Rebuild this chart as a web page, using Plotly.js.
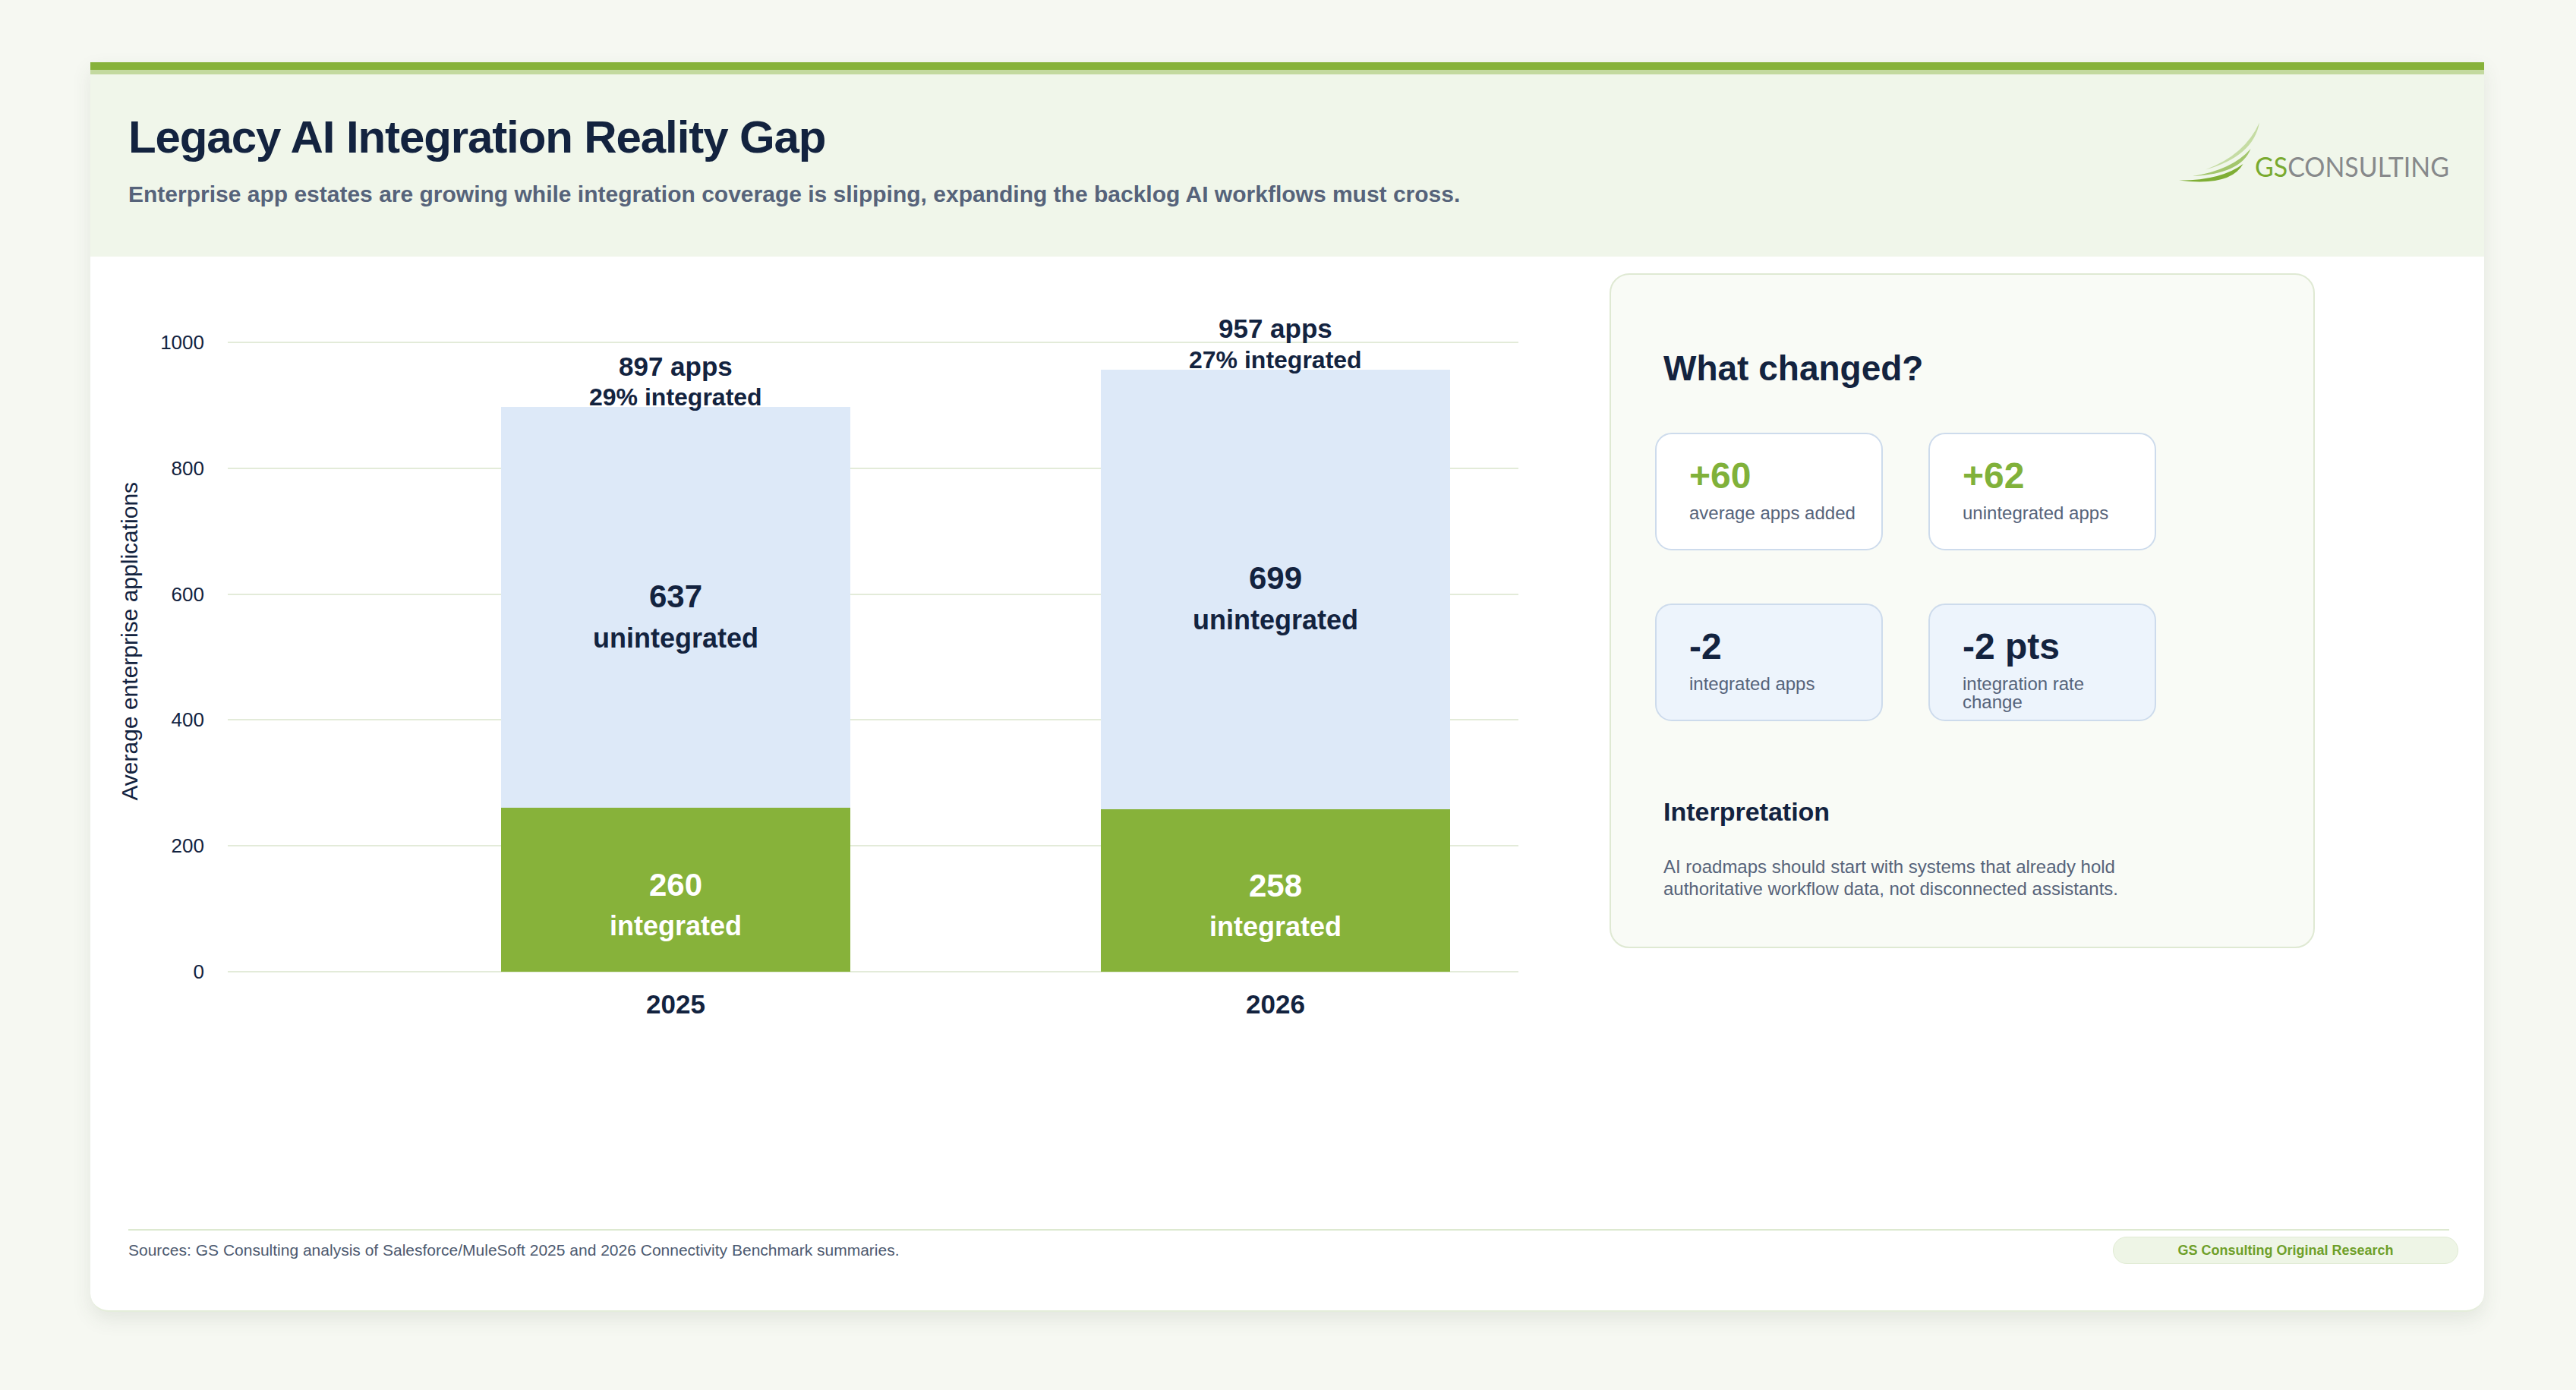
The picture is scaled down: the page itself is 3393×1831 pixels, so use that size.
<!DOCTYPE html>
<html>
<head>
<meta charset="utf-8">
<script src="https://cdn.plot.ly/plotly-3.0.1.min.js"></script>
<style>
  html, body { margin: 0; padding: 0; }
  body { width: 3393px; height: 1831px; background: #f6f8f2; position: relative; overflow: hidden;
         font-family: 'Liberation Sans', Arial, Helvetica, sans-serif; }
  .abs { position: absolute; white-space: nowrap; }
  #card { position: absolute; left: 119px; top: 82px; width: 3153px; height: 1646px; background: #ffffff;
          border-radius: 0 0 24px 24px; box-shadow: 0 10px 26px rgba(60, 75, 60, 0.10); overflow: hidden;
          border-bottom: 2px solid #e4edda; box-sizing: border-box; }
  #bar1 { position: absolute; left: 0; top: 0; width: 100%; height: 10px; background: #87b23a; }
  #bar2 { position: absolute; left: 0; top: 10px; width: 100%; height: 6px; background: #c3d99f; }
  #head { position: absolute; left: 0; top: 16px; width: 100%; height: 240px; background: #f0f6ea; }
  #title { left: 169px; top: 151px; font-size: 60px; line-height: 60px; font-weight: 700; color: #13233f; letter-spacing: -1.1px; }
  #subtitle { left: 169px; top: 241px; font-size: 30px; line-height: 30px; font-weight: 700; color: #56637a; }
  #panel { position: absolute; left: 2120px; top: 360px; width: 929px; height: 889px; box-sizing: border-box;
           border: 2px solid #dfe9d3; border-radius: 26px; background: #f9fbf6; }
  .kcard { position: absolute; width: 300px; height: 155px; box-sizing: border-box; border: 2px solid #cddbec; border-radius: 22px; }
  .kval { position: absolute; left: 43px; top: 31px; font-size: 48px; line-height: 48px; font-weight: 700; white-space: nowrap; }
  .klab { position: absolute; left: 43px; top: 92px; font-size: 24px; line-height: 24px; color: #56637a; white-space: nowrap; }
  #plot { position: absolute; left: 0; top: 0; width: 3393px; height: 1831px; z-index: 5; }
</style>
</head>
<body>
<div id="card">
  <div id="bar1"></div><div id="bar2"></div><div id="head"></div>
</div>
<div id="title" class="abs">Legacy AI Integration Reality Gap</div>
<div id="subtitle" class="abs">Enterprise app estates are growing while integration coverage is slipping, expanding the backlog AI workflows must cross.</div>

<svg class="abs" style="left:2860px;top:150px;" width="380" height="100" viewBox="2860 150 380 100">
  <path d="M2905,223.5 Q2968,206 2976,161.5 Q2957,204 2905,223.5 Z" fill="#c5dca3"/>
  <path d="M2888,232 Q2952,229 2964.5,196 Q2940,224 2888,232 Z" fill="#a3c66c"/>
  <path d="M2870,237.5 Q2938,246 2954.5,216 Q2925,238 2870,237.5 Z" fill="#7fae35"/>
  <text x="2970" y="233" font-family="Lato, 'DejaVu Sans', sans-serif" font-weight="400" font-size="36" textLength="256" lengthAdjust="spacingAndGlyphs"><tspan fill="#79aa2f">GS</tspan><tspan fill="#87898b">CONSULTING</tspan></text>
</svg>

<div id="panel"></div>
<div id="panelText"></div>

<div class="abs" style="left:169px;top:1619px;width:3057px;height:2px;background:#dde9d0;"></div>
<div id="sources" class="abs" style="left:169px;top:1636px;font-size:21px;line-height:21px;color:#4d5a70;">Sources: GS Consulting analysis of Salesforce/MuleSoft 2025 and 2026 Connectivity Benchmark summaries.</div>
<div class="abs" style="left:2783px;top:1629px;width:455px;height:36px;box-sizing:border-box;border:1px solid #e0ebd3;border-radius:18px;background:#eef5e6;font-size:18px;line-height:34px;text-align:center;font-weight:700;color:#6e9f2a;">GS Consulting Original Research</div>

<div id="plot"></div>

<script>
// ---- chart data ----
const years = ['2025', '2026'];
const integratedApps = [260, 258];
const unintegratedApps = [637, 699];
const totalApps = [897, 957];
const integratedShare = [29, 27];
const yTicks = [0, 200, 400, 600, 800, 1000];

// ---- side panel data ----
const changeValues = ['+60', '+62', '-2', '-2 pts'];
const changeLabels = ['average apps added', 'unintegrated apps', 'integrated apps', 'integration rate<br>change'];
const changeColors = ['#80b13a', '#80b13a', '#13233f', '#13233f'];
const changeBg = ['#ffffff', '#ffffff', '#edf4fc', '#edf4fc'];

// build side panel
(function () {
  const host = document.getElementById('panelText');
  let html = '<div class="abs" style="left:2191px;top:462px;font-size:46px;line-height:46px;font-weight:700;color:#13233f;">What changed?</div>';
  const pos = [[2180, 570], [2540, 570], [2180, 795], [2540, 795]];
  for (let i = 0; i < changeValues.length; i++) {
    html += '<div class="kcard" style="left:' + pos[i][0] + 'px;top:' + pos[i][1] + 'px;background:' + changeBg[i] + ';">' +
            '<div class="kval" style="color:' + changeColors[i] + ';">' + changeValues[i] + '</div>' +
            '<div class="klab">' + changeLabels[i] + '</div></div>';
  }
  html += '<div class="abs" style="left:2191px;top:1052px;font-size:34px;line-height:34px;font-weight:700;color:#13233f;">Interpretation</div>';
  html += '<div class="abs" style="left:2191px;top:1128px;font-size:24px;line-height:28.8px;color:#56637a;">AI roadmaps should start with systems that already hold<br>authoritative workflow data, not disconnected assistants.</div>';
  host.innerHTML = html;
})();

const W = 3393, H = 1831;
const NAVY = '#13233f';
const FONT = 'Liberation Sans, Arial, Helvetica, sans-serif';

const traces = [
  { type: 'bar', x: years, y: integratedApps, name: 'Integrated', marker: { color: '#87b23a' },
    width: 0.582, hoverinfo: 'skip' },
  { type: 'bar', x: years, y: unintegratedApps, name: 'Unintegrated', marker: { color: '#dde9f8' },
    width: 0.582, hoverinfo: 'skip' }
];

// annotations are placed on the category axis by category index
const annotations = [];
for (let i = 0; i < years.length; i++) {
  annotations.push({ x: i, y: totalApps[i], xref: 'x', yref: 'y', text: '<b>' + totalApps[i] + ' apps</b>',
    showarrow: false, yanchor: 'middle', yshift: 54, font: { size: 35, color: NAVY, family: FONT } });
  annotations.push({ x: i, y: totalApps[i], xref: 'x', yref: 'y', text: '<b>' + integratedShare[i] + '% integrated</b>',
    showarrow: false, yanchor: 'middle', yshift: 13, font: { size: 32, color: NAVY, family: FONT } });
  const midU = integratedApps[i] + unintegratedApps[i] / 2;
  annotations.push({ x: i, y: midU, xref: 'x', yref: 'y', text: '<b>' + unintegratedApps[i] + '</b>',
    showarrow: false, yanchor: 'middle', yshift: 15, font: { size: 42, color: NAVY, family: FONT } });
  annotations.push({ x: i, y: midU, xref: 'x', yref: 'y', text: '<b>unintegrated</b>',
    showarrow: false, yanchor: 'middle', yshift: -40, font: { size: 36, color: NAVY, family: FONT } });
  const midI = integratedApps[i] / 2;
  annotations.push({ x: i, y: midI, xref: 'x', yref: 'y', text: '<b>' + integratedApps[i] + '</b>',
    showarrow: false, yanchor: 'middle', yshift: 7, font: { size: 42, color: '#ffffff', family: FONT } });
  annotations.push({ x: i, y: midI, xref: 'x', yref: 'y', text: '<b>integrated</b>',
    showarrow: false, yanchor: 'middle', yshift: -47, font: { size: 36, color: '#ffffff', family: FONT } });
}

const layout = {
  width: W, height: H,
  margin: { l: 0, r: 0, t: 0, b: 0 },
  paper_bgcolor: 'rgba(0,0,0,0)', plot_bgcolor: 'rgba(0,0,0,0)',
  barmode: 'stack', showlegend: false,
  font: { family: FONT, color: NAVY },
  xaxis: {
    domain: [300 / W, 2000 / W], type: 'category', range: [-0.7468, 1.405],
    showgrid: false, zeroline: false, showline: false, ticks: '',
    tickfont: { size: 35, color: NAVY, family: FONT, weight: 700 },
    ticklabelstandoff: 19, fixedrange: true
  },
  yaxis: {
    domain: [1 - 1280 / H, 1 - 409.5 / H], range: [0, 1050],
    tickvals: yTicks, ticktext: yTicks.map(String),
    showgrid: true, gridcolor: '#e3ebd9', gridwidth: 2,
    zeroline: true, zerolinecolor: '#e3ebd9', zerolinewidth: 2,
    showline: false, ticks: '',
    tickfont: { size: 26, color: NAVY, family: FONT },
    ticklabelstandoff: 30,
    title: { text: 'Average enterprise applications', font: { size: 30, color: NAVY, family: FONT }, standoff: 20 },
    automargin: false, fixedrange: true
  },
  annotations: annotations
};

Plotly.newPlot('plot', traces, layout, { displayModeBar: false, staticPlot: true });
</script>
</body>
</html>
